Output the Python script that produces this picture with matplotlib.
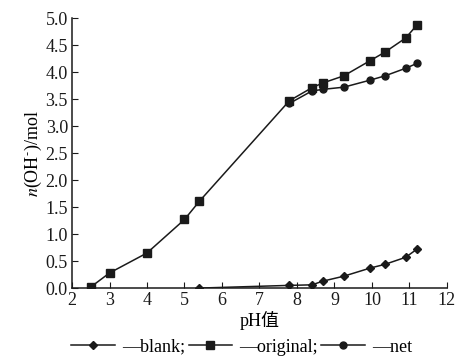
import matplotlib.pyplot as plt

plt.rcParams['font.family'] = ['Liberation Serif', 'Noto Sans CJK SC']
plt.rcParams['mathtext.fontset'] = 'stix'

# pH 值与 OH- 用量
ph_orig = [2.5, 3.0, 4.0, 5.0, 5.4, 7.8, 8.4, 8.7, 9.25, 9.95, 10.35, 10.9, 11.2]
original = [0.02, 0.28, 0.65, 1.27, 1.61, 3.47, 3.71, 3.80, 3.93, 4.21, 4.37, 4.63, 4.87]

ph_blank = [5.4, 7.8, 8.4, 8.7, 9.25, 9.95, 10.35, 10.9, 11.2]
blank = [0.0, 0.05, 0.06, 0.13, 0.22, 0.37, 0.44, 0.57, 0.72]

ph_net = [7.8, 8.4, 8.7, 9.25, 9.95, 10.35, 10.9, 11.2]
net = [3.42, 3.65, 3.68, 3.72, 3.85, 3.93, 4.07, 4.16]

xticks = [2, 3, 4, 5, 6, 7, 8, 9, 10, 11, 12]
yticks = [0.0, 0.5, 1.0, 1.5, 2.0, 2.5, 3.0, 3.5, 4.0, 4.5, 5.0]

fig = plt.figure(figsize=(4.56, 3.61), dpi=100)
ax = fig.add_axes([0.158, 0.202, 0.822, 0.748])

c = '#1a1a1a'
l1, = ax.plot(ph_blank, blank, '-', color=c, lw=1.1, marker='D', ms=4.5)
l2, = ax.plot(ph_orig, original, '-', color=c, lw=1.1, marker='s', ms=5.5)
l3, = ax.plot(ph_net, net, '-', color=c, lw=1.1, marker='o', ms=5)

ax.set_xlim(2, 12)
ax.set_ylim(0, 5)
ax.set_xticks(xticks)
ax.set_yticks(yticks)
ax.set_yticklabels([f'{v:.1f}' for v in yticks])
ax.tick_params(direction='in', length=4, labelsize=13, colors=c, pad=3)
ax.spines['top'].set_visible(False)
ax.spines['right'].set_visible(False)
for s in ['left', 'bottom']:
    ax.spines[s].set_color(c)
    ax.spines[s].set_linewidth(1.1)

ax.set_xlabel('pH值', fontsize=13, labelpad=1)
ax.set_ylabel(r'$\it{n}$(OH$^{\text{-}}$)/mol', fontsize=13, labelpad=1)

fig.legend([l1, l2, l3], ['—blank;', '—original;', '—net'],
           loc='lower center', bbox_to_anchor=(0.53, -0.03), ncol=3,
           frameon=False, fontsize=13, handlelength=2.4, handletextpad=0.4,
           columnspacing=0.2)

fig.savefig('out.png', dpi=100)
